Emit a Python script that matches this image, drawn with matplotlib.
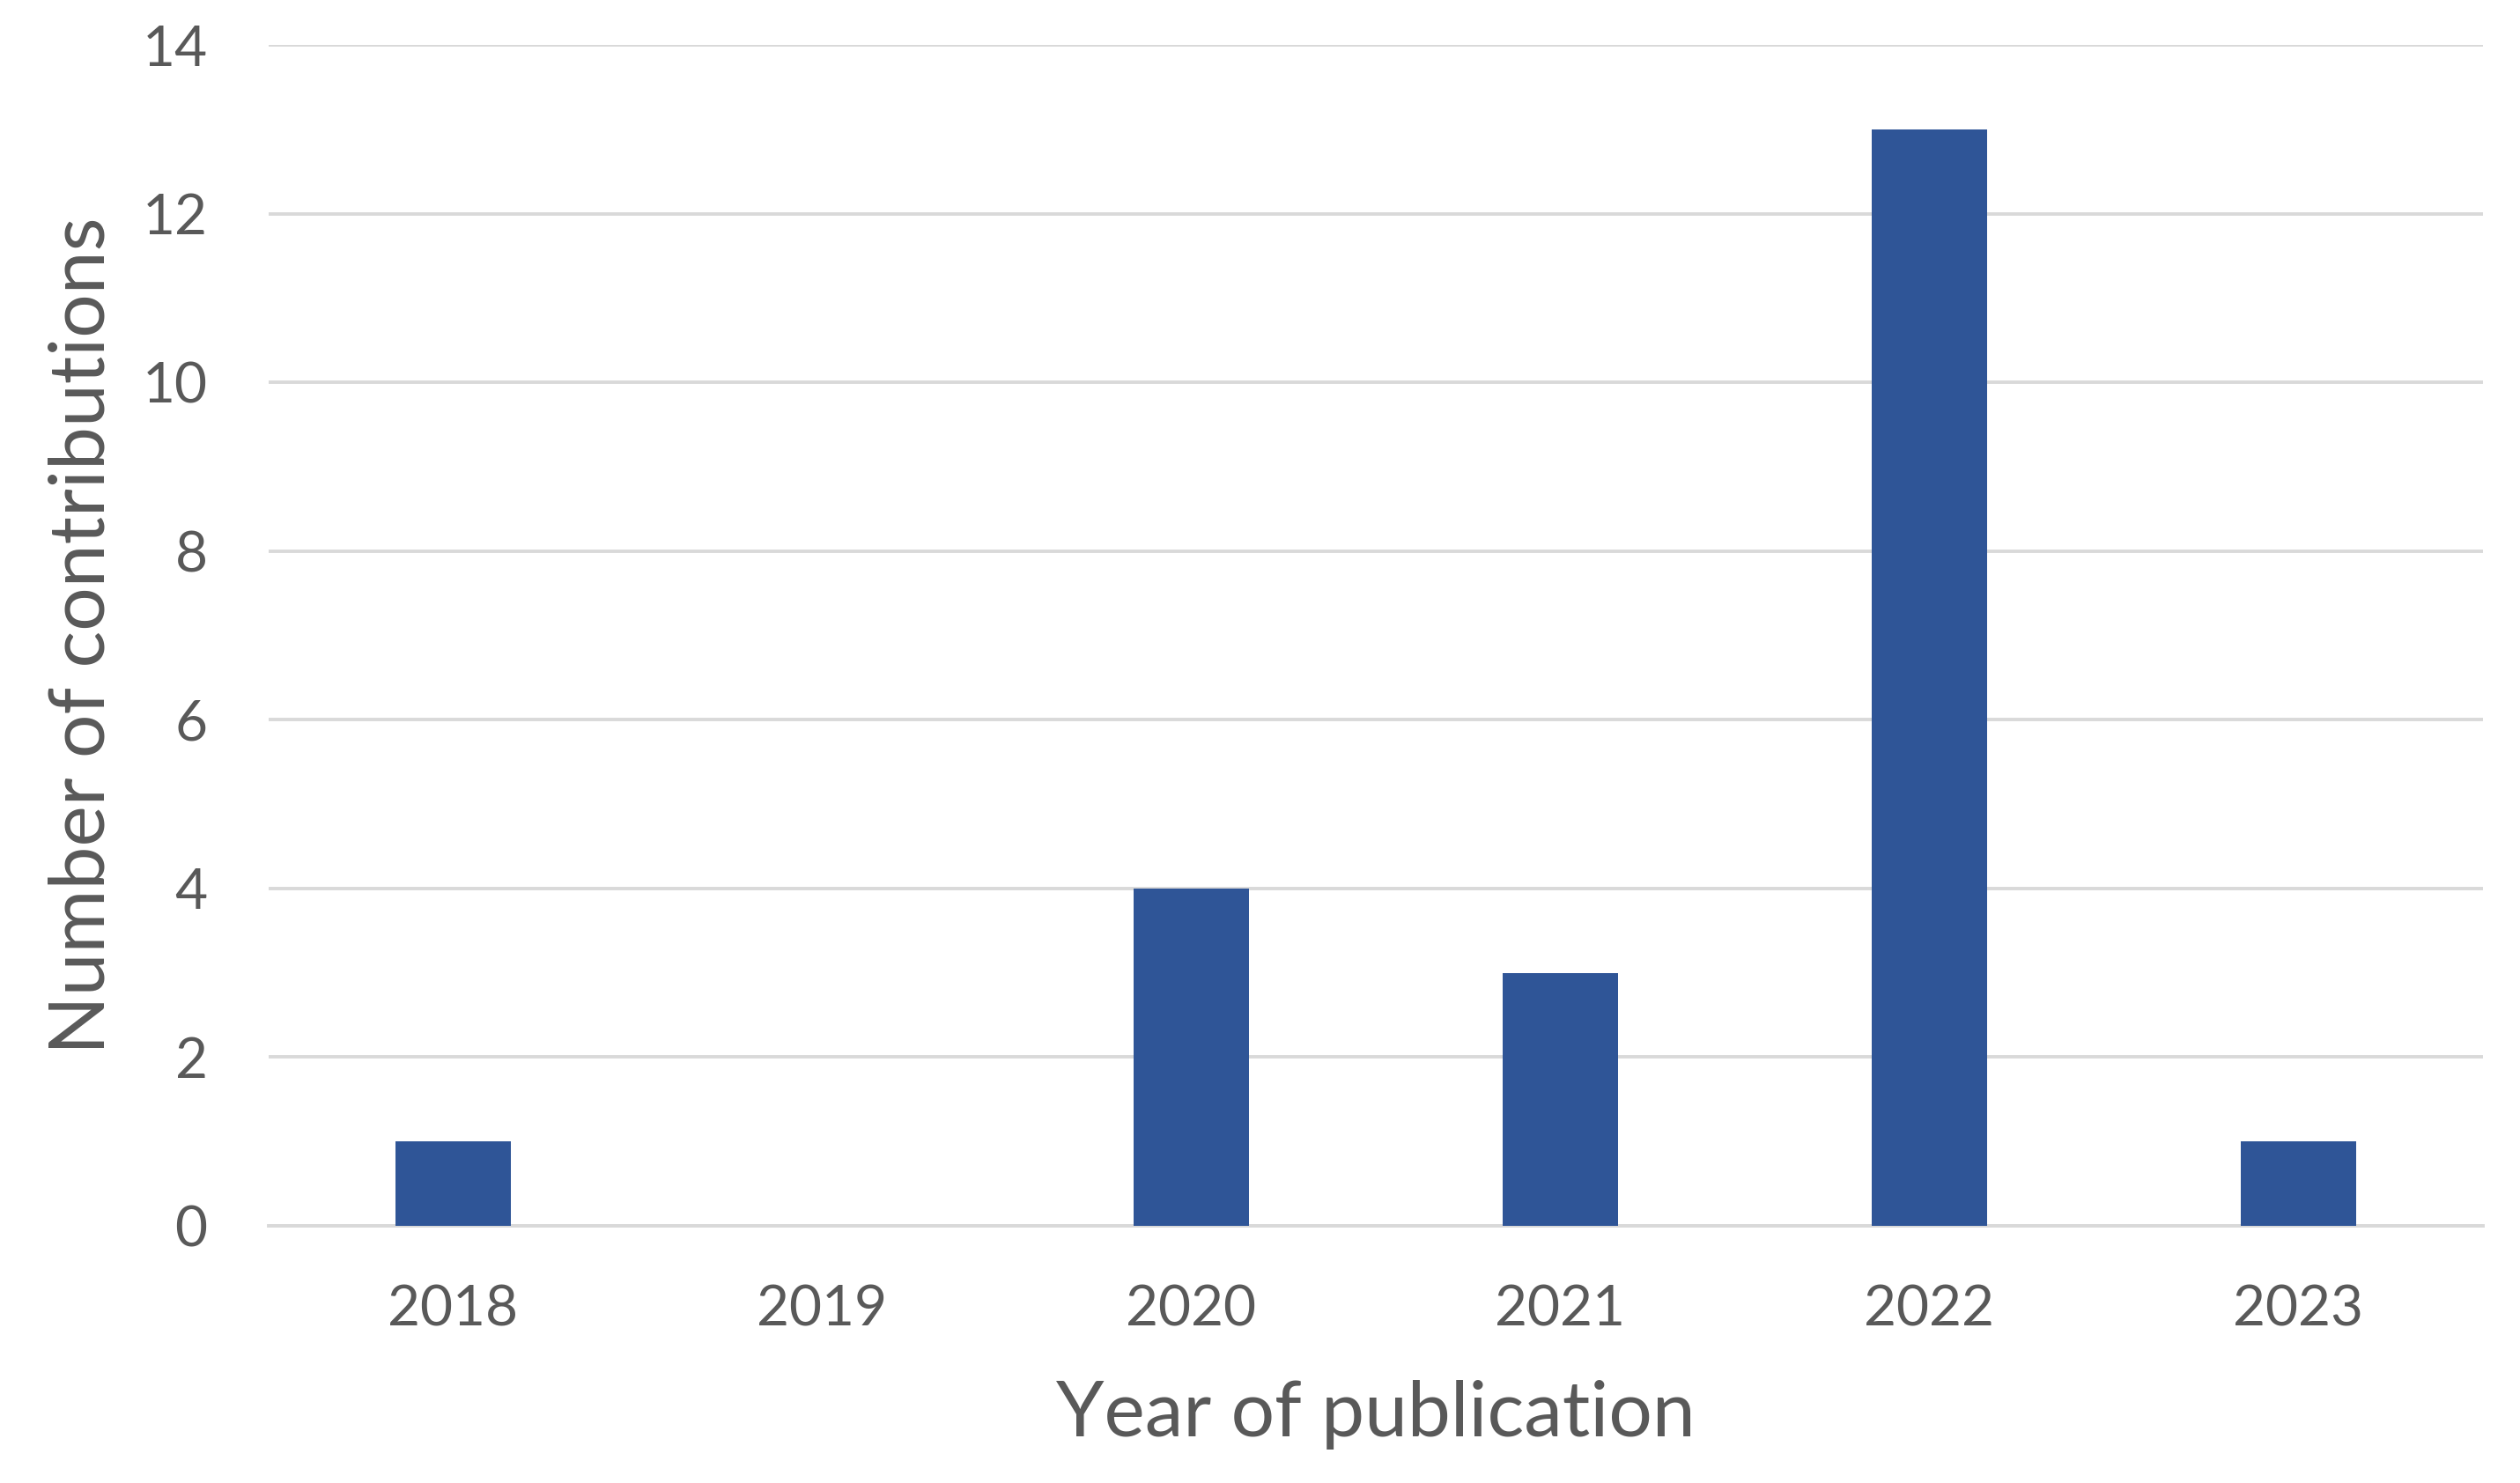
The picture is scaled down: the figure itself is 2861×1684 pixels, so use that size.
import matplotlib
matplotlib.use('Agg')
import matplotlib.pyplot as plt

# data
years = ['2018', '2019', '2020', '2021', '2022', '2023']
contributions = [1, 0, 4, 3, 13, 1]
y_ticks = [0, 2, 4, 6, 8, 10, 12, 14]

bar_color = '#2f5597'
text_color = '#595959'
grid_color = '#d9d9d9'

plt.rcParams['font.family'] = ['Lato', 'DejaVu Sans']

fig = plt.figure(figsize=(28.61, 16.84), dpi=100)
ax = fig.add_axes([0.1066, 0.1734, 0.8787, 0.7963])

x = list(range(len(years)))
ax.bar(x, contributions, width=0.314, color=bar_color, zorder=3)

ax.set_xlim(-0.5, len(years) - 0.5)
ax.set_ylim(0, 14)
ax.set_yticks(y_ticks)
ax.set_xticks(x)
ax.set_xticklabels(years)

ax.grid(True, axis='y', color=grid_color, linewidth=2.8, zorder=0)
ax.set_axisbelow(True)
for side in ['top', 'right', 'left']:
    ax.spines[side].set_visible(False)
ax.spines['bottom'].set_color(grid_color)
ax.spines['bottom'].set_linewidth(2.8)

ax.tick_params(axis='both', length=0, labelsize=46, labelcolor=text_color)
ax.tick_params(axis='x', pad=48)
ax.tick_params(axis='y', pad=50)

ax.set_xlabel('Year of publication', fontsize=63, color=text_color, labelpad=36)
ax.set_ylabel('Number of contributions', fontsize=63, color=text_color, labelpad=20)

plt.savefig('out.png', dpi=100)
plt.close()
